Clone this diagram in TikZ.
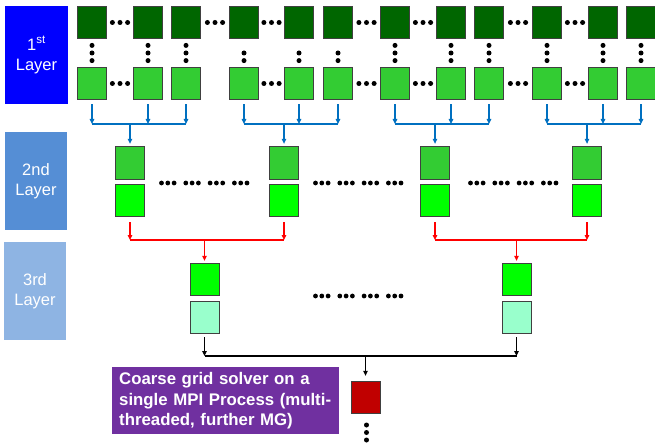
\documentclass[tikz,border=0pt]{standalone}
\usepackage{fontspec}
\newfontfamily\arial{Liberation Sans}
\usetikzlibrary{arrows.meta,calc}
\definecolor{dkgreen}{HTML}{006600}
\definecolor{mdgreen}{HTML}{33CC33}
\definecolor{brgreen}{HTML}{00FF00}
\definecolor{mint}{HTML}{99FFCC}
\definecolor{dkred}{HTML}{C00000}
\definecolor{purp}{HTML}{7030A0}
\definecolor{lone}{HTML}{0000FF}
\definecolor{ltwo}{HTML}{558ED5}
\definecolor{lthree}{HTML}{8EB4E3}
\definecolor{barrowc}{HTML}{0070C0}
\tikzset{
  sq/.style={draw=black!75, line width=0.8pt, minimum width=29pt, minimum height=32.5pt, inner sep=0pt},
  lbl/.style={text=white, align=center, inner sep=0pt, font=\arial\fontsize{16.5}{20}\selectfont},
  conn/.style={line width=1.1pt},
  tipped/.style={conn, -{Triangle[length=5pt,width=4.5pt]}},
  dotc/.style={fill=black}
}
\begin{document}
\begin{tikzpicture}[x=1pt,y=-1pt]
\useasboundingbox (0,0) rectangle (655,446);
% layer labels
\node[lbl, fill=lone, minimum width=63pt, minimum height=98pt] (L1) at (36.5,55) {1\textsuperscript{st}\\Layer};
\node[lbl, fill=ltwo, minimum width=62pt, minimum height=98pt] (L2) at (36,181) {2nd\\Layer};
\node[lbl, fill=lthree, minimum width=62pt, minimum height=98pt] (L3) at (35,291) {3rd\\Layer};
% first layer squares
\foreach \i/\x in {1/92,2/148,3/186,4/244,5/299,6/338,7/395,8/451,9/489,10/547,11/603,12/641}{
  \node[sq, fill=dkgreen] (t\i) at (\x,22.5) {};
  \node[sq, fill=mdgreen] (b\i) at (\x,83.5) {};
}
% horizontal dots
\foreach \a/\b in {1/2,3/4,4/5,6/7,7/8,9/10,10/11}{
  \foreach \d in {-7.6,0,7.6}{
    \fill[dotc] ([xshift=\d pt]$(t\a.east)!0.5!(t\b.west)$) circle (2.5pt);
  }
}
\foreach \a/\b in {1/2,4/5,6/7,7/8,9/10,10/11}{
  \foreach \d in {-7.6,0,7.6}{
    \fill[dotc] ([xshift=\d pt]$(b\a.east)!0.5!(b\b.west)$) circle (2.5pt);
  }
}
% vertical dots
\foreach \i in {1,2,3,7,8,9,10,11,12}{
  \foreach \d in {-7.6,0,7.6}{
    \fill[dotc] ([yshift=\d pt]$(t\i.south)!0.5!(b\i.north)$) circle (2.5pt);
  }
}
\foreach \i in {4,5,6}{
  \foreach \d in {0,7.6}{
    \fill[dotc] ([yshift=-\d pt]$(t\i.south)!0.5!(b\i.north)$) circle (2.5pt);
  }
}
% second layer
\foreach \i/\x in {1/130,2/284,3/435,4/587}{
  \node[sq, fill=mdgreen] (m\i) at (\x,163) {};
  \node[sq, fill=brgreen] (n\i) at (\x,200.5) {};
}
% third layer
\node[sq, fill=brgreen] (p1) at (204.5,279.5) {};
\node[sq, fill=mint] (q1) at (204.5,317.5) {};
\node[sq, fill=brgreen] (p2) at (516.5,279.5) {};
\node[sq, fill=mint] (q2) at (516.5,317.5) {};
% coarse
\node[sq, fill=dkred] (r) at (365.5,397.5) {};
\foreach \d in {425,432.5,440}{\fill[dotc] (366.5,\d) circle (2.5pt);}
% dots between boxes
\foreach \sx/\sy in {161.5/183,315.5/183,470.5/183,315.5/296}{
  \foreach \k in {0,1,2,3}{
    \foreach \d in {0,6.3,12.6}{
      \fill[dotc] (\sx+\k*24.3+\d,\sy) circle (2.4pt);
    }
  }
}
% buses
\coordinate (busB) at (0,124);
\coordinate (busR) at (0,240);
\coordinate (busK) at (0,356);
\foreach \i in {1,...,12}{
  \draw[tipped, draw=barrowc, fill=barrowc, shorten <=4pt] (b\i.south) -- (b\i.south |- busB);
}
\foreach \a/\c/\m in {1/3/1,4/6/2,7/9/3,10/12/4}{
  \draw[conn, draw=barrowc] (b\a.south |- busB) -- (b\c.south |- busB);
  \draw[tipped, draw=barrowc, fill=barrowc, shorten >=2.5pt] (m\m.north |- busB) -- (m\m.north);
}
% red
\foreach \i in {1,...,4}{
  \draw[tipped, red, shorten <=5pt] (n\i.south) -- (n\i.south |- busR);
}
\draw[conn, red] (n1.south |- busR) -- (n2.south |- busR);
\draw[conn, red] (n3.south |- busR) -- (n4.south |- busR);
\draw[tipped, red, shorten >=2pt] (p1.north |- busR) -- (p1.north);
\draw[tipped, red, shorten >=2pt] (p2.north |- busR) -- (p2.north);
% black
\draw[tipped, shorten <=3pt] (q1.south) -- (q1.south |- busK);
\draw[tipped, shorten <=3pt] (q2.south) -- (q2.south |- busK);
\draw[conn] (q1.south |- busK) -- (q2.south |- busK);
\draw[tipped, shorten >=5pt] (r.north |- busK) -- (r.north);
% purple text box
\node[fill=purp, text=white, anchor=north west, minimum width=227pt, minimum height=67pt,
      text width=213pt, align=left, inner sep=0pt,
      font=\arial\bfseries\fontsize{16.8}{20.5}\selectfont] (cg) at (112,367)
  {Coarse grid solver on a\\single MPI Process (multi-\\threaded, further MG)};
\end{tikzpicture}
\end{document}
